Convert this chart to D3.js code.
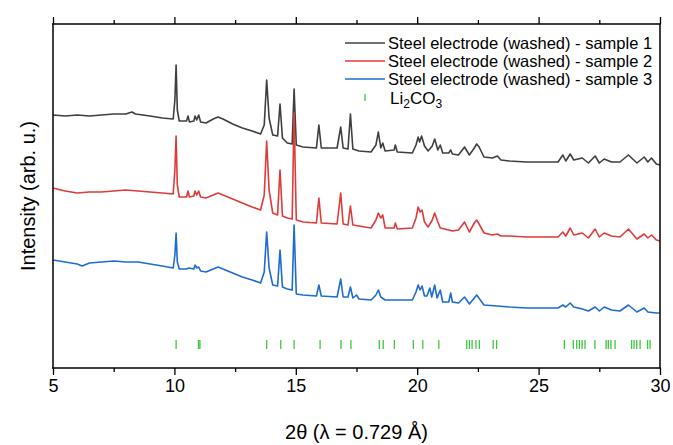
<!DOCTYPE html>
<html>
<head>
<meta charset="utf-8">
<script src="https://cdn.jsdelivr.net/npm/d3@7"></script>
<style>
  body { margin: 0; background: #fff; }
  svg { display: block; font-family: "Liberation Sans", Arial, sans-serif; }
</style>
</head>
<body>
<div class="canvas"></div>
<script>
// [2theta, intensity (arb. u.)]
const sample1 = [
  [5.0, 253], [5.5, 252], [6.0, 253], [6.5, 252], [7.0, 253], [7.5, 254], [8.0, 254], [8.25, 256], [8.4, 254],
  [9.0, 252], [9.5, 250], [9.95, 249], [10.02, 268], [10.07, 303], [10.12, 258], [10.2, 247], [10.5, 247],
  [10.56, 252], [10.62, 246], [10.8, 247], [10.85, 252], [10.92, 248], [11.0, 253], [11.08, 246], [11.3, 245],
  [11.6, 249], [11.8, 251], [12.0, 249], [12.4, 244], [12.8, 240], [13.2, 237], [13.55, 234], [13.7, 243],
  [13.8, 288], [13.9, 250], [14.05, 233], [14.25, 232], [14.35, 264], [14.45, 230], [14.65, 225], [14.85, 224],
  [14.93, 279], [15.02, 223], [15.3, 221], [15.85, 220], [15.95, 243], [16.05, 220], [16.7, 220], [16.85, 241],
  [16.95, 220], [17.15, 219], [17.25, 254], [17.35, 219], [17.6, 217], [18.1, 216], [18.3, 223], [18.4, 236],
  [18.5, 220], [18.58, 225], [18.68, 217], [19.05, 218], [19.1, 223], [19.18, 216], [19.8, 215], [19.95, 223],
  [20.04, 231], [20.1, 226], [20.18, 232], [20.3, 222], [20.45, 217], [20.62, 222], [20.72, 229], [20.85, 218],
  [20.95, 223], [21.05, 215], [21.3, 215], [21.38, 218], [21.45, 214], [21.7, 213], [21.95, 221], [22.15, 213],
  [22.35, 220], [22.45, 224], [22.55, 221], [22.75, 211], [23.1, 210], [23.3, 212], [23.45, 208], [23.8, 207],
  [24.5, 206], [25.2, 206], [25.8, 206], [26.0, 213], [26.12, 207], [26.3, 214], [26.45, 208], [26.8, 210],
  [27.05, 205], [27.33, 212], [27.5, 205], [27.7, 209], [28.0, 206], [28.35, 206], [28.7, 213], [29.05, 205],
  [29.35, 211], [29.5, 206], [29.65, 210], [29.85, 204], [30.0, 203]
]

const sample2 = [
  [5.0, 180], [5.5, 177], [6.0, 175], [6.5, 176], [7.0, 176], [7.5, 177], [8.0, 178], [8.5, 177], [9.0, 176],
  [9.5, 175], [9.95, 174], [10.02, 198], [10.07, 232], [10.12, 183], [10.2, 171], [10.5, 171], [10.56, 177],
  [10.62, 171], [10.8, 172], [10.85, 177], [10.92, 173], [11.0, 177], [11.08, 171], [11.3, 170], [11.6, 173],
  [11.8, 175], [12.0, 173], [12.4, 169], [12.8, 165], [13.2, 161], [13.55, 158], [13.7, 173], [13.8, 227],
  [13.9, 178], [14.05, 155], [14.25, 153], [14.35, 198], [14.45, 152], [14.65, 150], [14.85, 149], [14.93, 255],
  [15.02, 148], [15.3, 146], [15.85, 145], [15.95, 170], [16.05, 145], [16.7, 144], [16.85, 175], [16.95, 144],
  [17.15, 143], [17.25, 162], [17.35, 143], [17.6, 142], [18.1, 140], [18.3, 148], [18.4, 155], [18.5, 150],
  [18.58, 153], [18.68, 140], [19.05, 140], [19.1, 145], [19.18, 139], [19.8, 140], [19.95, 150], [20.04, 161],
  [20.12, 156], [20.2, 158], [20.3, 146], [20.45, 141], [20.62, 148], [20.72, 155], [20.85, 146], [20.95, 140],
  [21.3, 138], [21.45, 137], [21.7, 138], [21.95, 146], [22.15, 136], [22.35, 145], [22.45, 148], [22.55, 144],
  [22.75, 135], [23.1, 133], [23.3, 134], [23.45, 132], [23.8, 132], [24.5, 131], [25.2, 131], [25.8, 131],
  [26.0, 136], [26.12, 132], [26.3, 140], [26.45, 133], [26.8, 135], [27.05, 130], [27.33, 139], [27.5, 131],
  [27.7, 135], [28.0, 132], [28.35, 131], [28.7, 139], [29.05, 129], [29.35, 134], [29.5, 130], [29.65, 133],
  [29.85, 128], [30.0, 127]
]

const sample3 = [
  [5.0, 108], [5.5, 106], [6.0, 104], [6.2, 102], [6.5, 105], [7.0, 106], [7.5, 107], [8.0, 106], [8.5, 106],
  [9.0, 104], [9.5, 102], [9.95, 100], [10.02, 113], [10.07, 135], [10.12, 106], [10.2, 99], [10.5, 99],
  [10.6, 100], [10.8, 99], [10.85, 103], [10.92, 100], [11.0, 101], [11.08, 97], [11.3, 96], [11.6, 99],
  [11.8, 101], [12.0, 99], [12.4, 95], [12.8, 91], [13.2, 88], [13.55, 85], [13.7, 96], [13.8, 136], [13.9, 100],
  [14.05, 83], [14.25, 82], [14.35, 118], [14.45, 81], [14.65, 79], [14.85, 78], [14.93, 143], [15.02, 74],
  [15.3, 73], [15.85, 72], [15.95, 83], [16.05, 72], [16.7, 71], [16.85, 89], [16.95, 71], [17.15, 71],
  [17.25, 81], [17.35, 70], [17.5, 73], [17.6, 69], [18.1, 68], [18.3, 73], [18.4, 78], [18.5, 71], [18.68, 68],
  [19.8, 68], [19.95, 76], [20.04, 83], [20.12, 78], [20.2, 82], [20.3, 72], [20.4, 72], [20.52, 80], [20.6, 71],
  [20.72, 83], [20.82, 70], [20.95, 78], [21.05, 66], [21.3, 66], [21.38, 75], [21.45, 66], [21.7, 65],
  [21.95, 71], [22.15, 64], [22.45, 73], [22.6, 68], [22.75, 63], [23.3, 62], [23.8, 61], [24.5, 60], [25.2, 60],
  [25.8, 60], [26.0, 63], [26.12, 61], [26.3, 65], [26.45, 61], [26.8, 59], [27.05, 57], [27.33, 61], [27.5, 57],
  [27.7, 61], [28.0, 58], [28.35, 57], [28.7, 63], [29.05, 56], [29.35, 60], [29.5, 56], [29.85, 55], [30.0, 55]
]

// Li2CO3 reference reflections (2theta)
const li2co3 = [
  10.07, 10.99, 11.05, 13.80, 14.38, 14.93, 16.0, 16.86, 17.27, 18.44, 18.6, 19.06, 19.84, 20.23, 20.89,
  22.04, 22.15, 22.26, 22.42, 22.56, 23.13, 23.27, 26.06, 26.43, 26.57, 26.68, 26.79, 26.91, 27.32,
  27.78, 27.87, 27.98, 28.15, 28.83, 28.93, 29.04, 29.18, 29.49, 29.59
]

const seriesNames = [
  "Steel electrode (washed) - sample 1",
  "Steel electrode (washed) - sample 2",
  "Steel electrode (washed) - sample 3"
]
const seriesColors = ["#3f3f3f", "#e03a3a", "#1f6bd3"]
const xTicks = [5, 10, 15, 20, 25, 30]
const xMinorTicks = [7.5, 12.5, 17.5, 22.5, 27.5]

const width = 673
const height = 445
const margin = { top: 24, left: 53, bottom: 77, right: 13 }
const graphWidth = width - margin.left - margin.right
const graphHeight = height - margin.top - margin.bottom

const svg = d3.select(".canvas")
  .append("svg")
    .attr("width", width)
    .attr("height", height)

const graph = svg.append("g")
  .attr("transform", `translate(${margin.left}, ${margin.top})`)

const x = d3.scaleLinear()
  .domain([5, 30])
  .range([0, graphWidth])

const y = d3.scaleLinear()
  .domain([0, 344])
  .range([graphHeight, 0])

// spectra
const line = d3.line()
  .x(d => x(d[0]))
  .y(d => y(d[1]))

const allSeries = [sample1, sample2, sample3]
allSeries.forEach((s, i) => {
  graph.append("path")
    .datum(s)
    .attr("fill", "none")
    .attr("stroke", seriesColors[i])
    .attr("stroke-width", 1.6)
    .attr("stroke-linejoin", "round")
    .attr("d", line)
})

// Li2CO3 reference ticks
graph.selectAll("line.ref")
  .data(li2co3)
  .enter()
  .append("line")
    .attr("class", "ref")
    .attr("x1", d => x(d))
    .attr("x2", d => x(d))
    .attr("y1", y(28))
    .attr("y2", y(19))
    .attr("stroke", "#3cc83c")
    .attr("stroke-width", 1.3)

// frame: four thin filled bars along the plot edges
const bw = 1.6
const gx0 = x(5), gx1 = x(30), gy0 = y(344), gy1 = y(0)
const frameBars = [
  { x: gx0 - bw / 2, y: gy0 - bw / 2, w: gx1 - gx0 + bw, h: bw },
  { x: gx0 - bw / 2, y: gy1 - bw / 2, w: gx1 - gx0 + bw, h: bw },
  { x: gx0 - bw / 2, y: gy0 - bw / 2, w: bw, h: gy1 - gy0 + bw },
  { x: gx1 - bw / 2, y: gy0 - bw / 2, w: bw, h: gy1 - gy0 + bw }
]
graph.selectAll("rect.frame")
  .data(frameBars)
  .enter()
  .append("rect")
    .attr("class", "frame")
    .attr("x", d => d.x)
    .attr("y", d => d.y)
    .attr("width", d => d.w)
    .attr("height", d => d.h)
    .attr("fill", "#111")

// ticks outward on bottom and top
const xAxis = d3.axisBottom(x)
  .tickValues(xTicks)
  .tickSize(7)
  .tickPadding(4)
  .tickFormat(d3.format("d"))

const xAxisGroup = graph.append("g")
  .attr("transform", `translate(0, ${graphHeight})`)
  .call(xAxis)

xAxisGroup.append("g")
  .call(d3.axisBottom(x).tickValues(xMinorTicks).tickSize(4).tickFormat(""))

const topAxisGroup = graph.append("g")
  .call(d3.axisTop(x).tickValues(xTicks).tickSize(7).tickFormat(""))

topAxisGroup.append("g")
  .call(d3.axisTop(x).tickValues(xMinorTicks).tickSize(4).tickFormat(""))

graph.selectAll(".domain").remove()

graph.selectAll(".tick line")
  .attr("stroke", "#000")
  .attr("stroke-width", 1.3)

xAxisGroup.selectAll("text")
  .attr("font-size", 18)
  .attr("font-family", "Liberation Sans, Arial, sans-serif")
  .attr("fill", "#000")

// axis titles
svg.append("text")
  .attr("x", margin.left + graphWidth / 2)
  .attr("y", 439)
  .attr("text-anchor", "middle")
  .attr("font-size", 20)
  .text("2θ (λ = 0.729 Å)")

svg.append("text")
  .attr("transform", `translate(35, ${margin.top + graphHeight / 2}) rotate(-90)`)
  .attr("text-anchor", "middle")
  .attr("font-size", 20)
  .text("Intensity (arb. u.)")

// legend
const legend = svg.append("g")
  .attr("transform", "translate(345, 43)")

seriesNames.forEach((name, i) => {
  const row = legend.append("g")
    .attr("transform", `translate(0, ${i * 18})`)
  row.append("line")
    .attr("x1", 0)
    .attr("x2", 40)
    .attr("stroke", seriesColors[i])
    .attr("stroke-width", 1.6)
  row.append("text")
    .attr("x", 43)
    .attr("y", 5.5)
    .attr("font-size", 16.5)
    .text(name)
})

const liRow = legend.append("g")
  .attr("transform", "translate(0, 55)")
liRow.append("line")
  .attr("x1", 20)
  .attr("x2", 20)
  .attr("y1", -4)
  .attr("y2", 3)
  .attr("stroke", "#3cc83c")
  .attr("stroke-width", 1.3)
const liText = liRow.append("text")
  .attr("x", 45)
  .attr("y", 6)
  .attr("font-size", 17)
liText.append("tspan").text("Li")
liText.append("tspan").attr("font-size", 12).attr("dy", 4).text("2")
liText.append("tspan").attr("dy", -4).text("CO")
liText.append("tspan").attr("font-size", 12).attr("dy", 4).text("3")
</script>
</body>
</html>
